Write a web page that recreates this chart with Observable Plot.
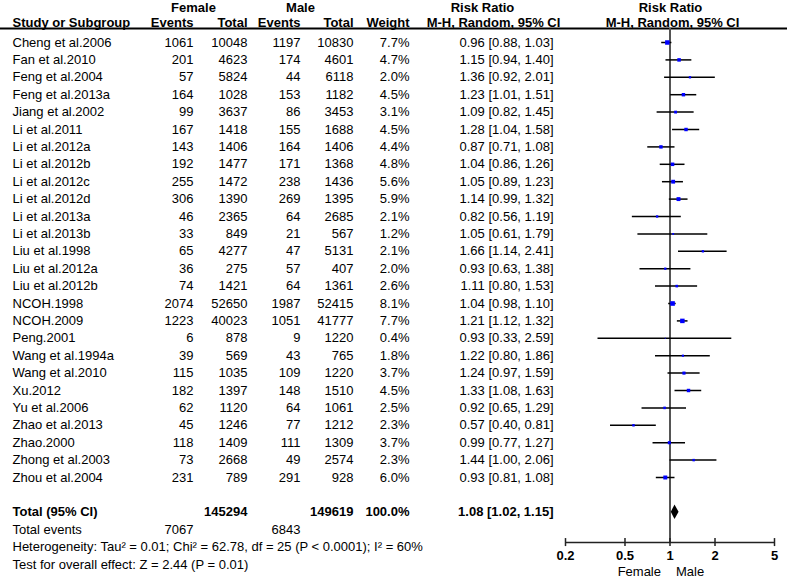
<!DOCTYPE html>
<html>
<head>
<meta charset="utf-8">
<script src="https://cdn.jsdelivr.net/npm/d3@7"></script>
<script src="https://cdn.jsdelivr.net/npm/@observablehq/plot@0.6"></script>
<style>
  html, body { margin: 0; padding: 0; background: #fff; }
  #chart svg { display: block; }
</style>
</head>
<body>
<div id="chart"></div>
<script>
// ---- Data ----
const studies = ["Cheng et al.2006","Fan et al.2010","Feng et al.2004","Feng et al.2013a","Jiang et al.2002","Li et al.2011","Li et al.2012a","Li et al.2012b","Li et al.2012c","Li et al.2012d","Li et al.2013a","Li et al.2013b","Liu et al.1998","Liu et al.2012a","Liu et al.2012b","NCOH.1998","NCOH.2009","Peng.2001","Wang et al.1994a","Wang et al.2010","Xu.2012","Yu et al.2006","Zhao et al.2013","Zhao.2000","Zhong et al.2003","Zhou et al.2004"];
const femaleEvents = [1061,201,57,164,99,167,143,192,255,306,46,33,65,36,74,2074,1223,6,39,115,182,62,45,118,73,231];
const femaleTotal = [10048,4623,5824,1028,3637,1418,1406,1477,1472,1390,2365,849,4277,275,1421,52650,40023,878,569,1035,1397,1120,1246,1409,2668,789];
const maleEvents = [1197,174,44,153,86,155,164,171,238,269,64,21,47,57,64,1987,1051,9,43,109,148,64,77,111,49,291];
const maleTotal = [10830,4601,6118,1182,3453,1688,1406,1368,1436,1395,2685,567,5131,407,1361,52415,41777,1220,765,1220,1510,1061,1212,1309,2574,928];
const weights = [7.7,4.7,2.0,4.5,3.1,4.5,4.4,4.8,5.6,5.9,2.1,1.2,2.1,2.0,2.6,8.1,7.7,0.4,1.8,3.7,4.5,2.5,2.3,3.7,2.3,6.0];
const riskRatio = [0.96,1.15,1.36,1.23,1.09,1.28,0.87,1.04,1.05,1.14,0.82,1.05,1.66,0.93,1.11,1.04,1.21,0.93,1.22,1.24,1.33,0.92,0.57,0.99,1.44,0.93];
const ciLow = [0.88,0.94,0.92,1.01,0.82,1.04,0.71,0.86,0.89,0.99,0.56,0.61,1.14,0.63,0.80,0.98,1.12,0.33,0.80,0.97,1.08,0.65,0.40,0.77,1.00,0.81];
const ciHigh = [1.03,1.40,2.01,1.51,1.45,1.58,1.08,1.26,1.23,1.32,1.19,1.79,2.41,1.38,1.53,1.10,1.32,2.59,1.86,1.59,1.63,1.29,0.81,1.27,2.06,1.08];

const totalFemale = 145294, totalMale = 149619, totalWeight = 100.0;
const totalEventsFemale = 7067, totalEventsMale = 6843;
const pooled = {rr: 1.08, lo: 1.02, hi: 1.15};
const heterogeneityText = "Heterogeneity: Tau² = 0.01; Chi² = 62.78, df = 25 (P < 0.0001); I² = 60%";
const overallText = "Test for overall effect: Z = 2.44 (P = 0.01)";
const tickValues = [0.2, 0.5, 1, 2, 5];
const tickLabels = ["0.2", "0.5", "1", "2", "5"];
const favourLabels = ["Female", "Male"];

// ---- Layout (row units) ----
const totalRow = 27, eventsRow = 28, hetRow = 29, testRow = 30;
const headRow1 = -1.97, headRow2 = -1.15, headerRule = -0.8, axisRow = 28.74, tickLabelRow = 29.5, axisLabelRow = 30.4;

const fmt2 = v => v.toFixed(2);
const rows = studies.map((s, i) => ({
  i, study: s,
  fe: String(femaleEvents[i]), ft: String(femaleTotal[i]),
  me: String(maleEvents[i]), mt: String(maleTotal[i]),
  w: weights[i], wt: weights[i].toFixed(1) + "%",
  rr: riskRatio[i], lo: ciLow[i], hi: ciHigh[i],
  ci: `${fmt2(riskRatio[i])} [${fmt2(ciLow[i])}, ${fmt2(ciHigh[i])}]`
}));

function col(data, text, dx, anchor, y, weight = "normal") {
  return Plot.text(data, {frameAnchor: "left", y, text, dx, textAnchor: anchor, fontWeight: weight, fill: "#000"});
}

const header1 = [
  {t: "Female", x: 193, a: "middle"}, {t: "Male", x: 300, a: "middle"},
  {t: "Risk Ratio", x: 482, a: "middle"}, {t: "Risk Ratio", x: 670, a: "middle"}
];
const header2 = [
  {t: "Study or Subgroup", x: 12, a: "start"}, {t: "Events", x: 193, a: "end"}, {t: "Total", x: 247, a: "end"},
  {t: "Events", x: 300, a: "end"}, {t: "Total", x: 353, a: "end"}, {t: "Weight", x: 409, a: "end"},
  {t: "M-H, Random, 95% CI", x: 493, a: "middle"}, {t: "M-H, Random, 95% CI", x: 672, a: "middle"}
];

const diamondH = 0.42;
const diamond = [
  {y: totalRow - diamondH, x1: pooled.rr, x2: pooled.rr},
  {y: totalRow, x1: pooled.lo, x2: pooled.hi},
  {y: totalRow + diamondH, x1: pooled.rr, x2: pooled.rr}
];

const marks = [
  // header rule
  Plot.ruleY([headerRule], {stroke: "#000", strokeWidth: 2}),
  // line of no effect
  Plot.ruleX([1], {y1: headerRule, y2: axisRow, stroke: "#555", strokeWidth: 2}),
  // CIs
  Plot.ruleY(rows, {y: "i", x1: "lo", x2: "hi", stroke: "#000", strokeWidth: 1.5}),
  // squares
  Plot.dot(rows, {x: "rr", y: "i", r: "w", symbol: "square", fill: "#0000ff", stroke: "none"}),
  // pooled diamond
  Plot.areaX(diamond, {y: "y", x1: "x1", x2: "x2", fill: "#000", curve: "linear"}),
  // axis line, ticks, labels
  Plot.ruleY([axisRow], {x1: tickValues[0], x2: tickValues[tickValues.length - 1], stroke: "#222", strokeWidth: 1.5}),
  Plot.ruleX(tickValues, {x: d => d, y1: axisRow - 0.23, y2: axisRow + 0.23, stroke: "#222", strokeWidth: 1.5}),
  Plot.text(tickValues, {x: d => d, y: () => tickLabelRow, text: (d, i) => tickLabels[i], fontWeight: "bold", fill: "#000", textAnchor: "middle"}),
  Plot.text([favourLabels[0]], {x: () => 1, y: () => axisLabelRow, text: d => d, textAnchor: "end", dx: -9, fill: "#000"}),
  Plot.text([favourLabels[1]], {x: () => 1, y: () => axisLabelRow, text: d => d, textAnchor: "start", dx: 6, fill: "#000"}),
  // headers
  ...header1.map(h => Plot.text([h], {frameAnchor: "left", y: () => headRow1, dx: h.x, text: "t", textAnchor: h.a, fontWeight: "bold", fill: "#000"})),
  ...header2.map(h => Plot.text([h], {frameAnchor: "left", y: () => headRow2, dx: h.x, text: "t", textAnchor: h.a, fontWeight: "bold", fill: "#000"})),
  // study columns
  col(rows, "study", 12, "start", "i"),
  col(rows, "fe", 193, "end", "i"),
  col(rows, "ft", 247, "end", "i"),
  col(rows, "me", 300, "end", "i"),
  col(rows, "mt", 353, "end", "i"),
  col(rows, "wt", 409, "end", "i"),
  col(rows, "ci", 553, "end", "i"),
  // total row
  col(["Total (95% CI)"], d => d, 12, "start", () => totalRow, "bold"),
  col([totalFemale], d => String(d), 247, "end", () => totalRow, "bold"),
  col([totalMale], d => String(d), 353, "end", () => totalRow, "bold"),
  col([totalWeight], d => d.toFixed(1) + "%", 409, "end", () => totalRow, "bold"),
  col([pooled], d => `${fmt2(d.rr)} [${fmt2(d.lo)}, ${fmt2(d.hi)}]`, 553, "end", () => totalRow, "bold"),
  // total events and tests
  col(["Total events"], d => d, 12, "start", () => eventsRow),
  col([totalEventsFemale], d => String(d), 193, "end", () => eventsRow),
  col([totalEventsMale], d => String(d), 300, "end", () => eventsRow),
  col([heterogeneityText], d => d, 12, "start", () => hetRow),
  col([overallText], d => d, 12, "start", () => testRow)
];

const chart = Plot.plot({
  width: 787,
  height: 579,
  marginLeft: 0,
  marginRight: 0,
  marginTop: 0,
  marginBottom: 37,
  x: {type: "log", domain: [0.2, 5], range: [565, 774], axis: null},
  y: {type: "linear", domain: [0, 30], range: [42, 564], axis: null},
  r: {type: "sqrt", domain: [0, 8.1], range: [0, 2.6]},
  style: {fontFamily: "'Liberation Sans', Arial, sans-serif", fontSize: "13px", background: "#fff", color: "#000"},
  marks
});
document.getElementById("chart").appendChild(chart);
</script>
</body>
</html>
